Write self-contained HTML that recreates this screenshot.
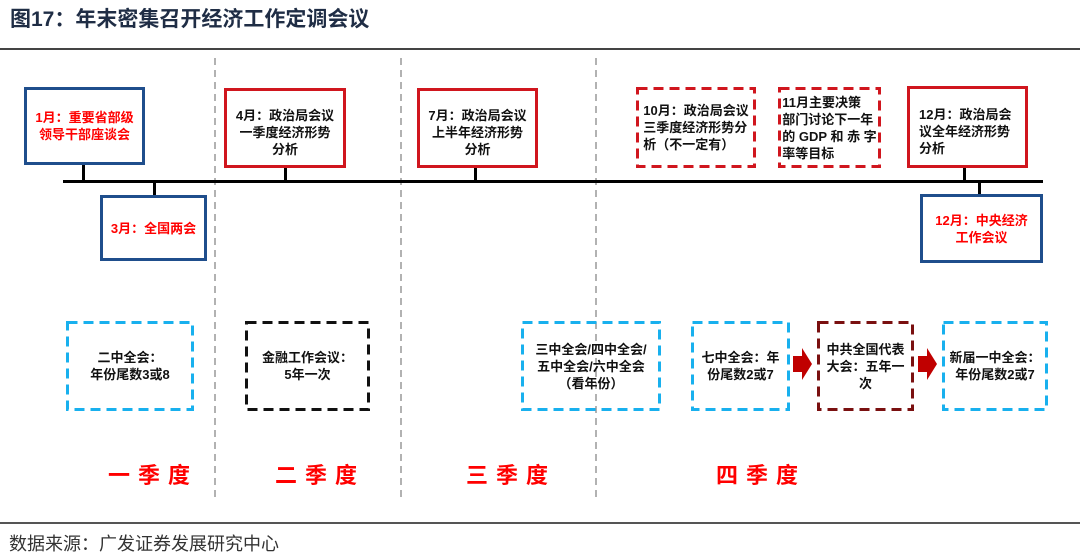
<!DOCTYPE html>
<html><head><meta charset="utf-8"><style>
body{margin:0;width:1080px;height:552px;background:#fff;position:relative;overflow:hidden;font-family:"Liberation Sans","Noto Sans CJK SC",sans-serif;}
.a{position:absolute;box-sizing:border-box;}
.t{display:flex;align-items:center;justify-content:center;text-align:center;font-weight:bold;font-size:13px;line-height:17px;color:#111;}
.bl{border:3px solid #1f4e8c;}
.rd{border:3px solid #d0161e;}
.red{color:#f00;}
.c{position:absolute;width:3px;background:#000;}
.q{position:absolute;top:458px;font-size:22px;font-weight:bold;color:#f00;letter-spacing:8px;}
</style></head><body>
<svg class="a" style="left:0;top:0" width="1080" height="552">
<g stroke="#999" stroke-width="1.5" stroke-dasharray="7 5">
<line x1="215" y1="58" x2="215" y2="498"/>
<line x1="401" y1="58" x2="401" y2="498"/>
<line x1="596" y1="58" x2="596" y2="498"/>
</g>
<g fill="none" stroke-width="3" stroke-dasharray="10 6">
<rect x="637.5" y="88.5" width="117" height="78" stroke="#d0161e"/>
<rect x="779.5" y="88.5" width="100" height="78" stroke="#d0161e"/>
<rect x="67.5" y="322.5" width="125" height="87" stroke="#18b0ee"/>
<rect x="246.5" y="322.5" width="122" height="87" stroke="#111"/>
<rect x="522.5" y="322.5" width="137" height="87" stroke="#18b0ee"/>
<rect x="692.5" y="322.5" width="96" height="87" stroke="#18b0ee"/>
<rect x="818.5" y="322.5" width="94" height="87" stroke="#7a1010"/>
<rect x="943.5" y="322.5" width="103" height="87" stroke="#18b0ee"/>
</g>
<polygon points="793,356 802,356 802,348 812,364 802,380 802,372 793,372" fill="#c00000"/>
<polygon points="918,356 927,356 927,348 937,364 927,380 927,372 918,372" fill="#c00000"/>
</svg>
<div class="a" style="left:10px;top:3px;font-size:21px;font-weight:bold;color:#1f2d45;">图17：年末密集召开经济工作定调会议</div>
<div class="a" style="left:0;top:48px;width:1080px;height:2px;background:#444;"></div>

<div class="a" style="left:63px;top:180px;width:980px;height:3px;background:#000;"></div>
<div class="c" style="left:82px;top:165px;height:16px"></div>
<div class="c" style="left:153px;top:181px;height:15px"></div>
<div class="c" style="left:284px;top:167px;height:14px"></div>
<div class="c" style="left:474px;top:167px;height:14px"></div>
<div class="c" style="left:963px;top:167px;height:14px"></div>
<div class="c" style="left:978px;top:181px;height:13px"></div>

<div class="a t bl red" style="left:24px;top:87px;width:121px;height:78px;">1月：重要省部级<br>领导干部座谈会</div>
<div class="a t bl red" style="left:100px;top:195px;width:107px;height:66px;">3月：全国两会</div>
<div class="a t rd" style="left:224px;top:88px;width:122px;height:80px;align-items:flex-start;padding-top:16px;">4月：政治局会议<br>一季度经济形势<br>分析</div>
<div class="a t rd" style="left:417px;top:88px;width:121px;height:80px;align-items:flex-start;padding-top:16px;">7月：政治局会议<br>上半年经济形势<br>分析</div>
<div class="a t" style="left:636px;top:87px;width:120px;height:81px;text-align:left;">10月：政治局会议<br>三季度经济形势分<br>析（不一定有）</div>
<div class="a t" style="left:778px;top:87px;width:103px;height:81px;text-align:left;">11月主要决策<br>部门讨论下一年<br>的 GDP 和 赤 字<br>率等目标</div>
<div class="a t rd" style="left:907px;top:86px;width:121px;height:82px;text-align:left;justify-content:flex-start;align-items:flex-start;padding:17px 0 0 9px;">12月：政治局会<br>议全年经济形势<br>分析</div>
<div class="a t bl red" style="left:920px;top:194px;width:123px;height:69px;">12月：中央经济<br>工作会议</div>

<div class="a t" style="left:66px;top:321px;width:128px;height:90px;">二中全会：<br>年份尾数3或8</div>
<div class="a t" style="left:245px;top:321px;width:125px;height:90px;">金融工作会议：<br>5年一次</div>
<div class="a t" style="left:521px;top:321px;width:140px;height:90px;">三中全会/四中全会/<br>五中全会/六中全会<br>（看年份）</div>
<div class="a t" style="left:691px;top:321px;width:99px;height:90px;">七中全会：年<br>份尾数2或7</div>
<div class="a t" style="left:817px;top:321px;width:97px;height:90px;">中共全国代表<br>大会：五年一<br>次</div>
<div class="a t" style="left:942px;top:321px;width:106px;height:90px;">新届一中全会：<br>年份尾数2或7</div>

<div class="q" style="left:108px">一季度</div>
<div class="q" style="left:275px">二季度</div>
<div class="q" style="left:466px">三季度</div>
<div class="q" style="left:716px">四季度</div>

<div class="a" style="left:0;top:522px;width:1080px;height:2px;background:#555;"></div>
<div class="a" style="left:9px;top:530px;font-size:18px;color:#333;">数据来源：广发证券发展研究中心</div>
</body></html>
